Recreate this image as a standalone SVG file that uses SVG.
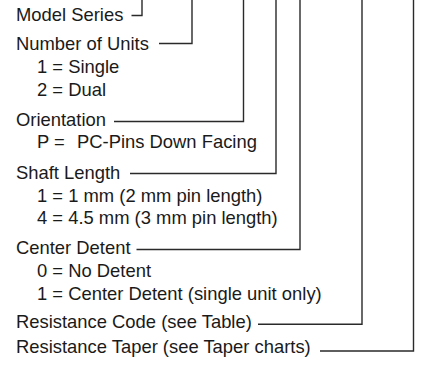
<svg xmlns="http://www.w3.org/2000/svg" width="424" height="366" viewBox="0 0 424 366">
<style>
text{font-family:"Liberation Sans",Arial,Helvetica,sans-serif;font-size:18.4px;fill:#1a1a1a}
.c{fill:none;stroke:#2a2a2a;stroke-width:1.4}
</style>
<rect width="424" height="366" fill="#fff"/>
<g id="connectors">
<polyline class="c" points="131.5,15.5 142,15.5 142,0"/>
<polyline class="c" points="159,43.5 192,43.5 192,0"/>
<polyline class="c" points="114,121.5 243.5,121.5 243.5,0"/>
<polyline class="c" points="130,173.5 276,173.5 276,0"/>
<polyline class="c" points="136.5,249.5 300,249.5 300,0"/>
<polyline class="c" points="258,324.3 362,324.3 362,0"/>
<polyline class="c" points="320,351 413.5,351 413.5,0"/>
</g>
<g id="model-series"><text x="16" y="20.5">Model Series</text></g>
<g id="number-of-units">
<text x="16" y="49.5">Number of Units</text>
<text x="37" y="72.5">1 = Single</text>
<text x="37" y="95.5">2 = Dual</text>
</g>
<g id="orientation">
<text x="16" y="126">Orientation</text>
<text x="37" y="147.5">P =<tspan x="77">PC-Pins Down Facing</tspan></text>
</g>
<g id="shaft-length">
<text x="16" y="178.5">Shaft Length</text>
<text x="37" y="201.5">1 = 1 mm (2 mm pin length)</text>
<text x="37" y="224">4 = 4.5 mm (3 mm pin length)</text>
</g>
<g id="center-detent">
<text x="16" y="254">Center Detent</text>
<text x="37" y="276.5">0 = No Detent</text>
<text x="37" y="299.5">1 = Center Detent (single unit only)</text>
</g>
<g id="resistance-code"><text x="16" y="327.5">Resistance Code (see Table)</text></g>
<g id="resistance-taper"><text x="16" y="352.5">Resistance Taper (see Taper charts)</text></g>
</svg>
